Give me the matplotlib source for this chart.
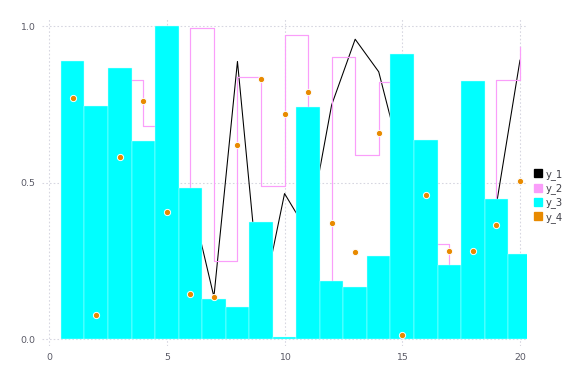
import numpy as np
import matplotlib
matplotlib.use("Agg")
from matplotlib import pyplot as plt
from matplotlib.lines import Line2D

# x positions shared by all four series
x = np.arange(1, 21)

# y_1: black line (many points are hidden behind the bars, estimated)
y_1 = [0.60, 0.49, 0.20, 0.10, 0.18, 0.455, 0.135, 0.887, 0.10, 0.465,
       0.34, 0.748, 0.958, 0.854, 0.56, 0.30, 0.13, 0.106, 0.43, 0.891]
# y_2: pink steps (post)
y_2 = [0.332, 0.60, 0.827, 0.680, 0.30, 0.993, 0.249, 0.837, 0.488, 0.971,
       0.12, 0.902, 0.588, 0.820, 0.40, 0.305, 0.15, 0.30, 0.828, 0.934]
# y_3: cyan bars
y_3 = [0.888, 0.744, 0.866, 0.633, 1.0, 0.482, 0.128, 0.102, 0.374, 0.006,
       0.741, 0.185, 0.166, 0.265, 0.911, 0.636, 0.236, 0.824, 0.447, 0.272]
# y_4: orange scatter
y_4 = [0.770, 0.077, 0.581, 0.761, 0.406, 0.144, 0.135, 0.620, 0.831, 0.718,
       0.788, 0.372, 0.279, 0.660, 0.013, 0.460, 0.282, 0.280, 0.364, 0.505]

labels = ["y_1", "y_2", "y_3", "y_4"]
colors = ["black", "#fa9efa", "#00ffff", "#e88a00"]

fig = plt.figure(figsize=(6, 4), dpi=96)
ax = fig.add_axes([0.073, 0.099, 0.842, 0.851])

ax.plot(x, y_1, color=colors[0], lw=0.8, zorder=2)
ax.step(x, y_2, where="post", color=colors[1], lw=0.9, zorder=3)
ax.bar(x, y_3, width=1.0, color=colors[2], edgecolor="#ccffff", linewidth=0.3, zorder=4)
ax.scatter(x, y_4, s=22, color=colors[3], edgecolor="white", linewidth=0.7, zorder=5)

ax.set_xlim(-0.3, 20.3)
ax.set_ylim(-0.022, 1.022)
ax.set_xticks([0, 5, 10, 15, 20])
ax.set_yticks([0.0, 0.5, 1.0])
ax.set_yticklabels(["0.0", "0.5", "1.0"])
ax.tick_params(length=0, labelsize=7, labelcolor="#5a5a66", pad=5)
for s in ax.spines.values():
    s.set_visible(False)
ax.grid(True, linestyle=(0, (1.5, 2)), color="#d6d6e0", lw=0.8)
ax.set_axisbelow(True)

handles = [Line2D([], [], marker="s", ls="none", color=c, markersize=6) for c in colors]
fig.legend(handles, labels, loc="center left", bbox_to_anchor=(0.912, 0.49),
           frameon=False, fontsize=7.5, handlelength=0.8, handletextpad=0.3,
           labelspacing=0.35, labelcolor="#404048")

fig.savefig("out.png", dpi=96)
